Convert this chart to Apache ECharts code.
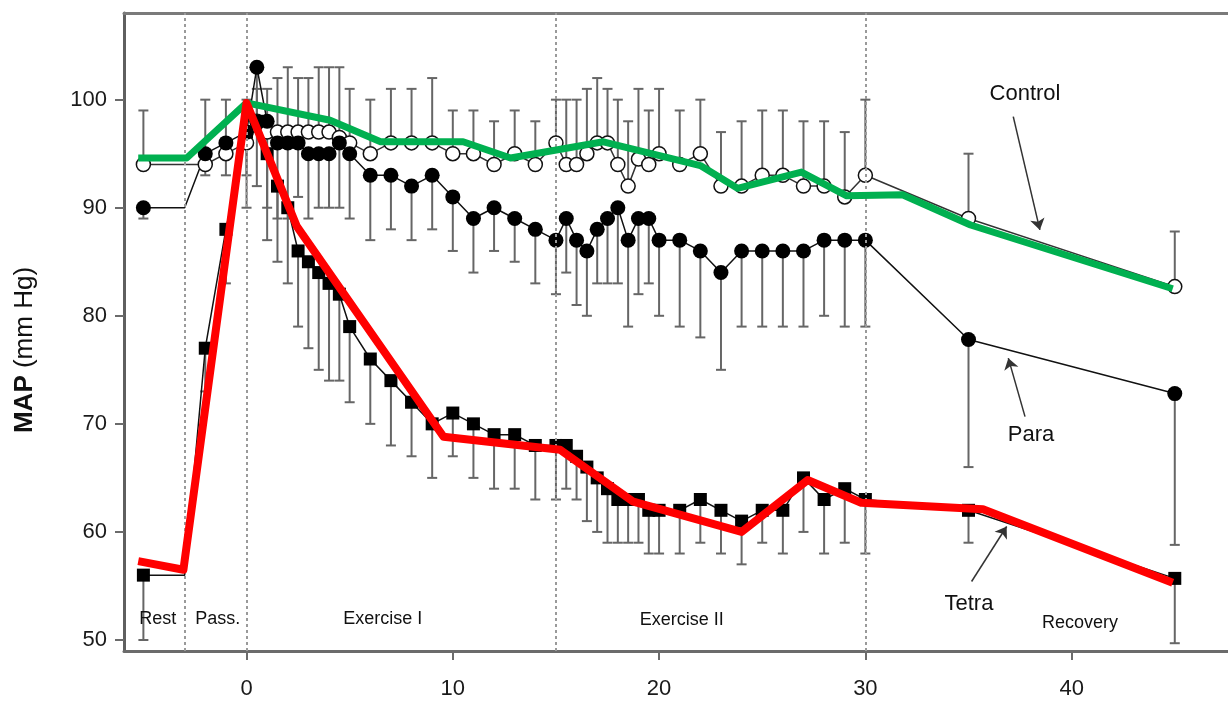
<!DOCTYPE html>
<html><head><meta charset="utf-8">
<script src="https://cdn.jsdelivr.net/npm/echarts@6/dist/echarts.min.js"></script>
<style>html,body{margin:0;padding:0;background:#fff}#c{width:1228px;height:701px}</style>
</head><body><div id="c"></div>
<script>
// time points (min) of the plotted means
const times = [-5,-2,-1,0,0.5,1,1.5,2,2.5,3,3.5,4,4.5,5,6,7,8,9,10,11,12,13,14,15,15.5,16,16.5,17,17.5,18,18.5,19,19.5,20,21,22,23,24,25,26,27,28,29,30,35,45];
// Control (open circles), error bars upward
const controlMAP = [94,94,95,96,98,97,97,97,97,97,97,97,96.5,96, 95,96,96,96,95,95,94,95,94,96, 94,94,95,96,96,94,92,94.5,94,95, 94,95,92,92,93,93,92,92,91,93, 89,82.7];
const controlSD  = [5,6,5,4,3,4,5,6,5,5,6,6,6.5,5, 5,5,5,6,4,4,4,4,4,4, 6,6,6,6,5,6,6,6.5,5,6, 5,5,5,6,6,6,6,6,6,7, 6,5.1];
// Para (filled circles), error bars downward
const paraMAP = [90,95,96,97,103,98,96,96,96,95,95,95,96,95, 93,93,92,93,91,89,90,89,88,87, 89,87,86,88,89,90,87,89,89,87, 87,86,84,86,86,86,86,87,87,87, 77.8,72.8];
const paraSD  = [1,2,3,4,6,8,7,7,5,6,5,5,6,6, 6,5,5,5,5,5,4,4,5,5, 5,6,6,5,6,7,8,7,6,7, 8,8,9,7,7,7,7,7,8,8, 11.8,14];
// Tetra (filled squares), error bars downward
const tetraMAP = [56,77,88,97,98,95,92,90,86,85,84,83,82,79, 76,74,72,70,71,70,69,69,68,68, 68,67,66,65,64,63,63,63,62,62, 62,63,62,61,62,62,65,63,64,63, 62,55.7];
const tetraSD  = [6,4,5,7,6,8,7,7,7,8,9,9,8,7, 6,6,5,5,4,5,5,5,5,5, 4,4,5,5,5,4,4,4,4,4, 4,4,4,4,3,4,5,5,5,5, 3,6];
// hand-traced overlay lines [min, mmHg]
const controlTrace = [[-5.25,94.6],[-2.9,94.6],[0,99.7],[4.05,98.1],[6.5,96.1],[10.5,96.1],[12.8,94.6],[17.3,96.1],[22,93.9],[23.8,91.8],[26.9,93.3],[29.1,91.1],[31.8,91.2],[35.1,88.4],[44.9,82.5]];
const tetraTrace = [[-5.25,57.3],[-3.06,56.5],[0,99.7],[2.43,88.3],[9.55,68.8],[15.2,67.6],[18.75,62.8],[24.0,60.0],[27.2,64.8],[29.8,62.7],[35.7,62.1],[44.9,55.3]];
// phase boundaries and names
const phaseBounds = [-3, 0, 15, 30];
const phaseNames = ['Rest', 'Pass.', 'Exercise I', 'Exercise II', 'Recovery'];
const xTicks = [0, 10, 20, 30, 40];
const yTicks = [50, 60, 70, 80, 90, 100];

const FONT = "'Liberation Sans', Arial, sans-serif";

function lineData(vals) {
  const d = times.map((t, i) => [t, vals[i]]);
  d.splice(1, 0, [phaseBounds[0], vals[0]]); // rest level held until end of rest
  return d;
}
function pts(vals, sd) { return times.map((t, i) => [t, vals[i], sd[i]]); }

function errBar(dir) {
  return function (params, api) {
    const x = api.value(0), y = api.value(1), s = api.value(2);
    const p0 = api.coord([x, y]);
    const p1 = api.coord([x, y + dir * s]);
    const w = 5;
    const st = { stroke: '#666', lineWidth: 2 };
    return { type: 'group', children: [
      { type: 'line', shape: { x1: p0[0], y1: p0[1], x2: p1[0], y2: p1[1] }, style: st },
      { type: 'line', shape: { x1: p1[0] - w, y1: p1[1], x2: p1[0] + w, y2: p1[1] }, style: st }
    ]};
  };
}

const phaseLabelPos = [[-4.3, 51.9], [-1.4, 51.9], [6.6, 51.9], [21.1, 51.8], [40.4, 51.6]];
const annotations = [
  { name: 'Control', value: [37.74, 100.57] },
  { name: 'Para', value: [38.03, 68.98] },
  { name: 'Tetra', value: [35.02, 53.35] }
];
const arrows = [
  [{ coord: [37.17, 98.43] }, { coord: [38.46, 87.95] }],
  [{ coord: [37.74, 70.67] }, { coord: [36.93, 76.08] }],
  [{ coord: [35.15, 55.41] }, { coord: [36.85, 60.5] }]
];

const chart = echarts.init(document.getElementById('c'), null, { renderer: 'canvas' });
const option = {
  animation: false,
  backgroundColor: '#fff',
  grid: { left: 124, right: 0, top: 13, bottom: 50, containLabel: false },
  xAxis: [{
    type: 'value', min: -5.94, max: 47.58,
    axisLine: { show: true, onZero: false, lineStyle: { color: '#6b6b6b', width: 3 } },
    axisTick: { show: true, length: 9, customValues: xTicks, lineStyle: { color: '#6b6b6b', width: 2 } },
    axisLabel: { customValues: xTicks, fontSize: 22, color: '#1a1a1a', margin: 27, fontFamily: FONT },
    splitLine: { show: false }
  }, {
    type: 'value', position: 'top', min: -5.94, max: 47.58,
    axisLine: { show: true, onZero: false, lineStyle: { color: '#7a7a7a', width: 3 } },
    axisTick: { show: false }, axisLabel: { show: false }, splitLine: { show: false }
  }],
  yAxis: {
    type: 'value', min: 48.98, max: 108.02,
    axisLine: { show: true, onZero: false, lineStyle: { color: '#5f5f5f', width: 3 } },
    axisTick: { show: true, length: 9, customValues: yTicks, lineStyle: { color: '#6b6b6b', width: 2 } },
    axisLabel: { customValues: yTicks, fontSize: 22, color: '#1a1a1a', margin: 17, fontFamily: FONT },
    splitLine: { show: false },
    name: '{b|MAP} (mm Hg)', nameLocation: 'middle', nameGap: 86, nameRotate: 90,
    nameTextStyle: { fontSize: 26, color: '#111', fontFamily: FONT, padding: [0, 36, 0, 0],
      rich: { b: { fontWeight: 'bold', fontSize: 26, fontFamily: FONT, color: '#111' } } }
  },
  series: [
    { name: 'Control SD', type: 'custom', renderItem: errBar(1), data: pts(controlMAP, controlSD), encode: { x: 0, y: 1 }, z: 1 },
    { name: 'Para SD', type: 'custom', renderItem: errBar(-1), data: pts(paraMAP, paraSD), encode: { x: 0, y: 1 }, z: 1 },
    { name: 'Tetra SD', type: 'custom', renderItem: errBar(-1), data: pts(tetraMAP, tetraSD), encode: { x: 0, y: 1 }, z: 1 },
    { name: 'Control', type: 'line', data: lineData(controlMAP), showSymbol: false, symbol: 'none',
      lineStyle: { color: '#333', width: 1.5 }, z: 2,
      markLine: { silent: true, symbol: 'none', label: { show: false },
        lineStyle: { color: '#9a9a9a', type: [3, 3], width: 2 },
        data: phaseBounds.map(b => ({ xAxis: b })) } },
    { name: 'Para', type: 'line', data: lineData(paraMAP), showSymbol: false, symbol: 'none',
      lineStyle: { color: '#111', width: 1.5 }, z: 2,
      markLine: { silent: true, symbol: ['none', 'arrow'], symbolSize: 11, label: { show: false },
        lineStyle: { color: '#333', type: 'solid', width: 1.5 }, data: arrows } },
    { name: 'Tetra', type: 'line', data: lineData(tetraMAP), showSymbol: false, symbol: 'none',
      lineStyle: { color: '#111', width: 1.5 }, z: 2 },
    { name: 'Control pts', type: 'scatter', data: times.map((t, i) => [t, controlMAP[i]]), symbol: 'circle', symbolSize: 14,
      itemStyle: { color: '#fff', borderColor: '#111', borderWidth: 1.5, opacity: 1 }, z: 3 },
    { name: 'Para pts', type: 'scatter', data: times.map((t, i) => [t, paraMAP[i]]), symbol: 'circle', symbolSize: 15,
      itemStyle: { color: '#000', opacity: 1 }, z: 3 },
    { name: 'Tetra pts', type: 'scatter', data: times.map((t, i) => [t, tetraMAP[i]]), symbol: 'rect', symbolSize: 13,
      itemStyle: { color: '#000', opacity: 1 }, z: 3 },
    { name: 'Control trace', type: 'line', data: controlTrace, showSymbol: false, symbol: 'none',
      lineStyle: { color: '#00b050', width: 7, join: 'round' }, z: 5 },
    { name: 'Tetra trace', type: 'line', data: tetraTrace, showSymbol: false, symbol: 'none',
      lineStyle: { color: '#ff0000', width: 8, join: 'round' }, z: 6 },
    { name: 'phases', type: 'scatter', symbolSize: 1, itemStyle: { color: 'rgba(0,0,0,0)', opacity: 1 }, silent: true, z: 4,
      data: phaseNames.map((n, i) => ({ name: n, value: phaseLabelPos[i] })),
      label: { show: true, position: 'inside', formatter: '{b}', fontSize: 18, color: '#111', opacity: 1, fontFamily: FONT } },
    { name: 'annotations', type: 'scatter', symbolSize: 1, itemStyle: { color: 'rgba(0,0,0,0)', opacity: 1 }, silent: true, z: 4,
      data: annotations,
      label: { show: true, position: 'inside', formatter: '{b}', fontSize: 22, color: '#111', opacity: 1, fontFamily: FONT } }
  ]
};
chart.setOption(option);
</script>
</body></html>
